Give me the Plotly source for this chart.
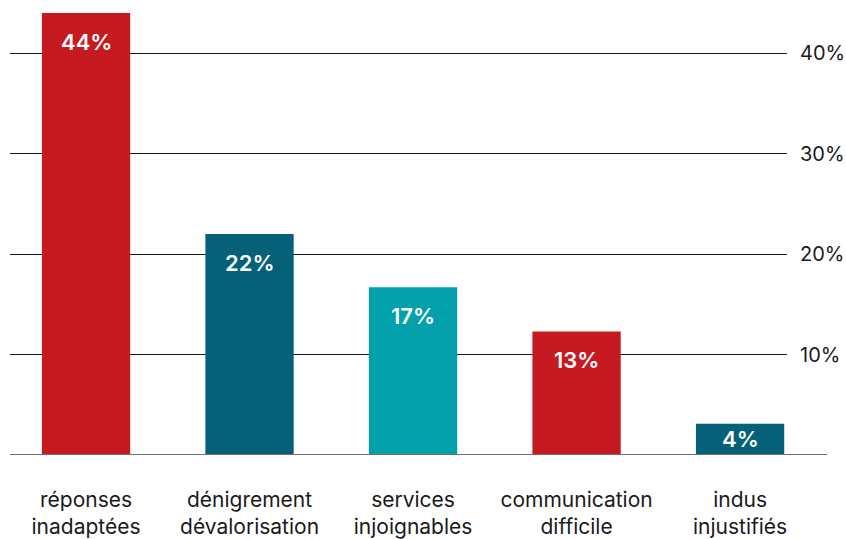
import plotly.graph_objects as go

categories = ["réponses<br>inadaptées", "dénigrement<br>dévalorisation", "services<br>injoignables",
              "communication<br>difficile", "indus<br>injustifiés"]
values = [44, 22, 16.7, 12.3, 3.1]
labels = ["44%", "22%", "17%", "13%", "4%"]
colors = ["#C51A1F", "#046178", "#01A0AB", "#C51A1F", "#046178"]
tick_vals = [10, 20, 30, 40]
tick_text = ["10%", "20%", "30%", "40%"]

FONT = "Inter"

fig = go.Figure()
fig.add_trace(go.Bar(x=categories, y=values, marker=dict(color=colors, line=dict(width=0)),
                     width=0.54, hoverinfo="skip"))

for c, v, t in zip(categories, values, labels):
    if v > 8:
        fig.add_annotation(x=c, y=v, yshift=-29, text=t, showarrow=False, yanchor="middle",
                           font=dict(family=FONT, size=22, color="white", weight=600))
    else:
        fig.add_annotation(x=c, y=v / 2, text=t, showarrow=False, yanchor="middle",
                           font=dict(family=FONT, size=22, color="white", weight=600))

# baseline extending past the gridlines
fig.add_shape(type="line", xref="paper", yref="y", x0=0, x1=1.0515, y0=0, y1=0,
              line=dict(color="#6f6f6f", width=2))

fig.update_layout(
    width=846, height=539,
    margin=dict(l=10, r=59, t=13, b=84),
    paper_bgcolor="white", plot_bgcolor="white",
    showlegend=False,
    font=dict(family=FONT, color="#1a1a1a"),
    xaxis=dict(range=[-0.465, 4.287], showgrid=False, zeroline=False, showline=False,
               ticks="", tickfont=dict(family=FONT, size=21, color="#1a1a1a"),
               ticklabelstandoff=30, automargin=False),
    yaxis=dict(range=[0, 44], side="right", tickvals=tick_vals, ticktext=tick_text,
               showgrid=True, gridcolor="#1a1a1a", gridwidth=1, zeroline=False,
               showline=False, ticks="", ticklabelstandoff=12, automargin=False,
               tickfont=dict(family=FONT, size=20, color="#1a1a1a")),
)

fig.write_html("out.html", config={"displayModeBar": False},
               post_script="document.body.style.margin='0';document.body.style.overflow='hidden';")
